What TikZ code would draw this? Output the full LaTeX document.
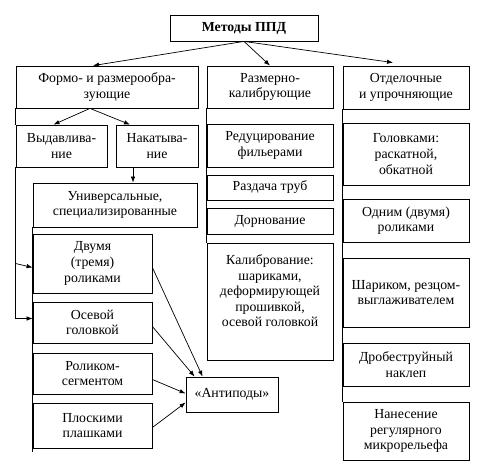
\documentclass[tikz,border=0pt]{standalone}
\usepackage{fontspec}
\setmainfont{Liberation Serif}
\usepackage{tikz}
\usetikzlibrary{arrows.meta, calc}
\tikzset{
  blk/.style={rectangle, draw=black, line width=0.8pt, align=center, inner sep=2pt,
    font=\fontsize{13.8}{15.6}\selectfont},
  blk/left/.style={blk, minimum width=119pt},
  blk/mid/.style={blk, minimum width=126pt},
  blk/right/.style={blk, minimum width=126pt},
  ar/.style={-{Latex[length=6pt,width=4.5pt]}, draw=black, line width=0.7pt},
  trunk/.style={draw=black, line width=0.8pt},
}

\begin{document}
\begin{tikzpicture}[x=1pt, y=-1pt]
\useasboundingbox (0,0) rectangle (490,466);

% top
\node[blk, minimum width=148pt, minimum height=26pt] (TOP) at (244,28) {\textbf{Методы ППД}};

% groups
\node[blk, minimum width=182pt, minimum height=42pt] (FORM) at (107,87) {Формо- и размерообра-\\зующие};
\node[blk/mid, minimum height=42pt] (RAZM) at (270,87) {Размерно-\\калибрующие};
\node[blk/right, minimum height=43pt] (OTD) at (406,87.5) {Отделочные\\и упрочняющие};

% left column
\node[blk, minimum width=91pt, minimum height=42pt] (VYD) at (61.5,146) {Выдавлива-\\ние};
\node[blk, minimum width=82pt, minimum height=42pt] (NAK) at (157,146) {Накатыва-\\ние};
\node[blk, minimum width=164pt, minimum height=44pt] (UNI) at (115,205) {Универсальные,\\специализированные};
\node[blk/left, minimum height=59pt] (DV) at (92.5,263.5) {Двумя\\(тремя)\\роликами};
\node[blk/left, minimum height=41pt] (OS) at (92.5,322.5) {Осевой\\головкой};
\node[blk/left, minimum height=41pt] (RS) at (92.5,373.5) {Роликом-\\сегментом};
\node[blk/left, minimum height=45pt] (PL) at (92.5,425.5) {Плоскими\\плашками};
\node[blk, minimum width=92pt, minimum height=35pt] (ANT) at (232,394.5) {«Антиподы»};

% middle column
\node[blk/mid, minimum height=43pt] (RED) at (270,145.5) {Редуцирование\\фильерами};
\node[blk/mid, minimum height=25pt] (RZD) at (270,187.5) {Раздача труб};
\node[blk/mid, minimum height=26pt] (DRN) at (270,221) {Дорнование};
\node[blk/mid, minimum height=117pt] (KAL) at (270,301.5) {Калибрование:\\шариками,\\деформирующей\\прошивкой,\\осевой головкой\\[6pt]};

% right column
\node[blk/right, minimum height=62pt] (GOL) at (406,154) {Головками:\\раскатной,\\обкатной};
\node[blk/right, minimum height=43pt] (ODN) at (406,220.5) {Одним (двумя)\\роликами};
\node[blk/right, minimum height=69pt] (SHR) at (406,292.5) {Шариком, резцом-\\выглаживателем};
\node[blk/right, minimum height=43pt] (DRB) at (406,364.5) {Дробеструйный\\наклеп};
\node[blk/right, minimum height=58pt] (NAN) at (406,431) {Нанесение\\регулярного\\микрорельефа};

\coordinate (FS) at ($(FORM.south)+(-17,0)$);
\coordinate (NS) at ($(NAK.south)+(-24,0)$);

% trunks
\draw[trunk] (FORM.south west) -- (VYD.north west);
\draw[trunk] (UNI.south west) -- ($(PL.south west)+(0,4)$);
\draw[trunk] (RAZM.south west) -- (KAL.north west);
\draw[trunk] (OTD.south west) -- (NAN.north west);

% arrows
\draw[ar] (TOP.south) -- ($(FORM.north)+(-14,0)$);
\draw[ar] (TOP.south) -- (RAZM.north);
\draw[ar] (TOP.south) -- ($(OTD.north)+(-13,-3)$);
\draw[ar] (FS) -- ($(VYD.north)+(-8,0)$);
\draw[ar] (FS) -- ($(NAK.north)+(-27,0)$);
\draw[ar] (NS) -- (NS |- UNI.north);
\draw[ar] (VYD.south west) |- ($(OS.west)+(0,-4)$);
\draw[ar] (VYD.south west |- DV.west) -- ($(DV.west)+(0,4)$ -| DV.west);
\draw[ar] ($(DV.east)+(0,4)$) -- ($(ANT.north west)+(17,0)$);
\draw[ar] ($(OS.east)+(0,4)$) -- ($(ANT.north west)+(9,0)$);
\draw[ar] ($(RS.east)+(0,6)$) -- ($(ANT.west)+(0,-1)$);
\draw[ar] ($(PL.east)+(0,2)$) -- ($(ANT.west)+(0,8)$);
\end{tikzpicture}
\end{document}
